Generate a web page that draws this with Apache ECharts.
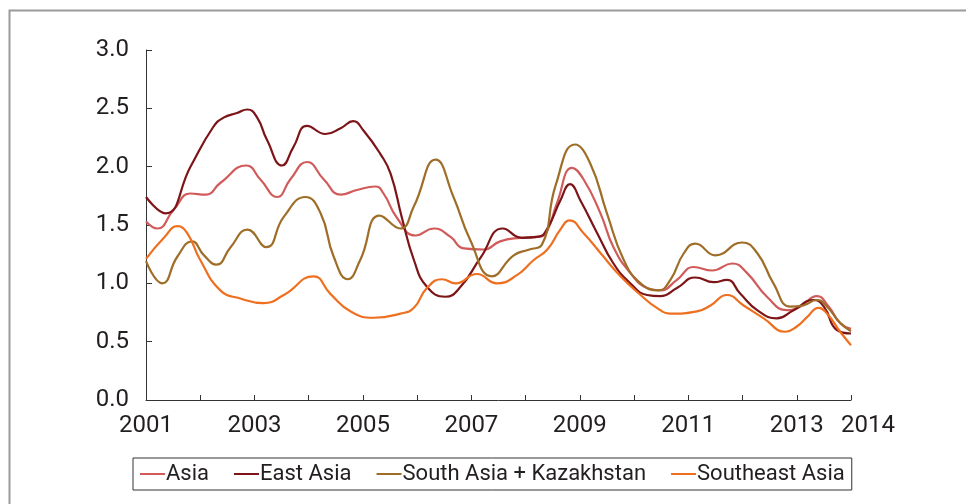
<!DOCTYPE html>
<html><head><meta charset="utf-8">
<script src="https://cdn.jsdelivr.net/npm/echarts@6/dist/echarts.min.js"></script>
<style>html,body{margin:0;padding:0;background:#fff}#c{width:966px;height:504px}</style>
</head><body><div id="c"></div>
<script>
const seriesNames = ['Asia', 'East Asia', 'South Asia + Kazakhstan', 'Southeast Asia'];
const seriesColors = ['#D15B5B', '#7D1518', '#9E6E28', '#EE6F1F'];
const xTickLabels = ['2001', '2003', '2005', '2007', '2009', '2011', '2013', '2014'];
const yTickLabels = ['0.0', '0.5', '1.0', '1.5', '2.0', '2.5', '3.0'];

const asia = [[2001.00,1.53],[2001.21,1.47],[2001.51,1.63],[2001.82,1.77],[2002.10,1.76],[2002.37,1.86],[2002.85,2.01],[2003.11,1.89],[2003.42,1.74],[2003.66,1.89],[2003.97,2.04],[2004.28,1.89],[2004.59,1.76],[2004.89,1.80],[2005.23,1.83],[2005.38,1.77],[2005.63,1.56],[2005.97,1.41],[2006.31,1.47],[2006.61,1.40],[2006.86,1.30],[2007.23,1.29],[2007.53,1.36],[2007.90,1.39],[2008.27,1.40],[2008.40,1.45],[2008.58,1.69],[2008.86,1.99],[2009.07,1.89],[2009.38,1.60],[2009.62,1.31],[2009.93,1.09],[2010.24,0.96],[2010.48,0.94],[2010.79,1.03],[2011.10,1.14],[2011.44,1.11],[2011.81,1.17],[2012.08,1.09],[2012.45,0.885],[2012.82,0.77],[2013.06,0.80],[2013.37,0.89],[2013.59,0.80],[2013.80,0.66],[2014.00,0.61]];

const eastAsia = [[2001.00,1.74],[2001.36,1.60],[2001.82,2.00],[2002.24,2.34],[2002.43,2.42],[2002.68,2.46],[2002.87,2.49],[2003.05,2.42],[2003.23,2.23],[2003.51,2.01],[2003.72,2.17],[2003.97,2.35],[2004.31,2.28],[2004.59,2.33],[2004.82,2.39],[2005.01,2.31],[2005.32,2.11],[2005.51,1.94],[2005.72,1.56],[2005.94,1.20],[2006.18,0.97],[2006.52,0.885],[2006.80,0.97],[2007.17,1.22],[2007.58,1.47],[2007.93,1.39],[2008.24,1.40],[2008.40,1.47],[2008.64,1.71],[2008.82,1.85],[2009.01,1.71],[2009.32,1.43],[2009.62,1.17],[2009.93,1.00],[2010.24,0.90],[2010.48,0.89],[2010.79,0.96],[2011.13,1.05],[2011.47,1.01],[2011.71,1.03],[2011.96,0.91],[2012.27,0.77],[2012.63,0.70],[2012.94,0.77],[2013.31,0.857],[2013.50,0.80],[2013.74,0.60],[2014.00,0.57]];

const southAsiaKaz = [[2001.00,1.19],[2001.30,1.00],[2001.58,1.23],[2001.85,1.36],[2002.07,1.24],[2002.30,1.16],[2002.56,1.31],[2002.87,1.46],[2003.22,1.31],[2003.54,1.57],[2003.94,1.74],[2004.22,1.60],[2004.46,1.23],[2004.72,1.035],[2004.95,1.20],[2005.31,1.58],[2005.69,1.47],[2005.94,1.66],[2006.34,2.06],[2006.67,1.74],[2006.98,1.37],[2007.38,1.06],[2007.78,1.24],[2008.07,1.29],[2008.30,1.33],[2008.56,1.85],[2008.91,2.19],[2009.19,2.03],[2009.50,1.60],[2009.81,1.20],[2010.12,1.00],[2010.45,0.94],[2010.67,1.03],[2010.92,1.26],[2011.13,1.34],[2011.50,1.24],[2011.99,1.35],[2012.27,1.26],[2012.57,1.00],[2012.88,0.80],[2013.12,0.81],[2013.37,0.857],[2013.56,0.80],[2013.80,0.66],[2014.00,0.59]];

const southeastAsia = [[2001.00,1.21],[2001.33,1.39],[2001.58,1.49],[2001.76,1.43],[2002.00,1.20],[2002.37,0.94],[2002.74,0.87],[2003.17,0.83],[2003.54,0.90],[2004.09,1.06],[2004.40,0.91],[2004.77,0.76],[2005.20,0.705],[2005.69,0.74],[2005.94,0.79],[2006.18,0.96],[2006.46,1.035],[2006.71,1.00],[2007.10,1.08],[2007.47,1.00],[2007.84,1.07],[2008.15,1.20],[2008.40,1.29],[2008.64,1.46],[2008.81,1.54],[2009.07,1.43],[2009.38,1.26],[2009.75,1.06],[2010.12,0.90],[2010.42,0.79],[2010.67,0.74],[2011.16,0.76],[2011.41,0.81],[2011.71,0.90],[2012.02,0.81],[2012.39,0.70],[2012.79,0.585],[2013.00,0.63],[2013.19,0.71],[2013.40,0.79],[2013.56,0.74],[2013.80,0.585],[2014.00,0.47]];

const allData = [asia, eastAsia, southAsiaKaz, southeastAsia];
const FONT = "Roboto, sans-serif";

const chart = echarts.init(document.getElementById('c'), null, {renderer: 'canvas'});
chart.setOption({
  animation: false,
  backgroundColor: '#fff',
  graphic: [{
    type: 'rect', left: 7, top: 8, silent: true,
    shape: {width: 975, height: 510},
    style: {fill: 'none', stroke: '#9a9a9a', lineWidth: 2}
  }],
  grid: {left: 146, right: 115, top: 50, bottom: 104, containLabel: false},
  legend: {
    left: 133, top: 458,
    data: seriesNames,
    icon: 'rect', itemWidth: 25, itemHeight: 2, itemGap: 25,
    padding: [5, 7, 5, 7],
    borderColor: '#333', borderWidth: 1,
    textStyle: {fontFamily: FONT, fontSize: 22, color: '#231F20', padding: [0, 0, 0, -4]}
  },
  xAxis: {
    type: 'value', min: 2001, max: 2014, interval: 1,
    axisLine: {show: true, lineStyle: {color: '#333', width: 1}},
    axisTick: {show: true, inside: true, length: 5, lineStyle: {color: '#333'}},
    splitLine: {show: false},
    axisLabel: {
      fontFamily: FONT, fontSize: 24, color: '#231F20', margin: 14,
      formatter: v => {
        const s = String(Math.round(v));
        if (xTickLabels.indexOf(s) < 0) return '';
        return s === xTickLabels[xTickLabels.length - 1] ? '{last|' + s + '}' : s;
      },
      rich: {last: {fontFamily: FONT, fontSize: 24, color: '#231F20', padding: [0, 0, 0, 34]}}
    }
  },
  yAxis: {
    type: 'value', min: 0, max: 3, interval: 0.5,
    axisLine: {show: true, lineStyle: {color: '#333', width: 1}},
    axisTick: {show: true, inside: true, length: 6, lineStyle: {color: '#333'}},
    splitLine: {show: false},
    axisLabel: {
      fontFamily: FONT, fontSize: 24, color: '#231F20', margin: 17,
      formatter: v => yTickLabels[Math.round(v / 0.5)]
    }
  },
  series: seriesNames.map((n, i) => ({
    name: n, type: 'line', data: allData[i], smooth: 0.5, showSymbol: false,
    color: seriesColors[i],
    lineStyle: {width: 2.2, color: seriesColors[i]}
  }))
});
</script></body></html>
